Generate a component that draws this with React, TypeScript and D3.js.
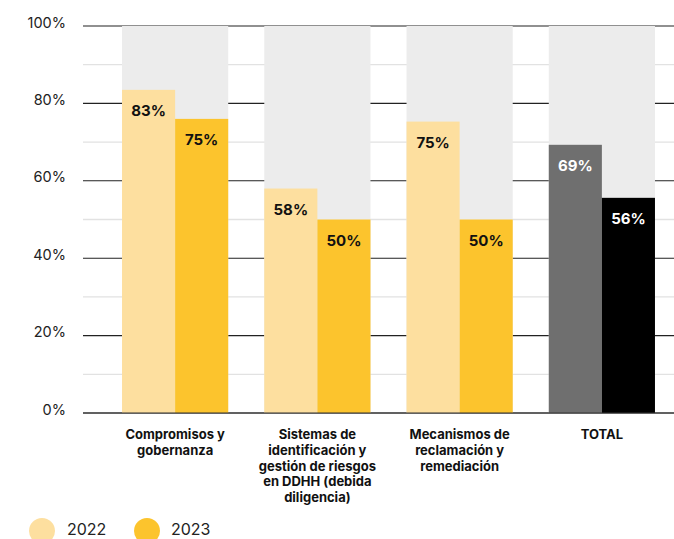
import * as d3 from 'd3';

// Datos
const categories = [
  ['Compromisos y', 'gobernanza'],
  ['Sistemas de', 'identificación y', 'gestión de riesgos', 'en DDHH (debida', 'diligencia)'],
  ['Mecanismos de', 'reclamación y', 'remediación'],
  ['TOTAL'],
];
const years = ['2022', '2023'];
const values2022 = [83.5, 58, 75.3, 69.3];
const values2023 = [76, 50, 50, 55.6];
const labels2022 = ['83%', '58%', '75%', '69%'];
const labels2023 = ['75%', '50%', '50%', '56%'];
const majorTicks = [0, 20, 40, 60, 80, 100];
const minorTicks = [10, 30, 50, 70, 90];

const W = 674;
const H = 539;
const FONT = 'Inter, "Noto Sans", sans-serif';

const COL_22 = '#fddf9f';
const COL_23 = '#fcc42d';
const COL_TOT_22 = '#6f6f6f';
const COL_TOT_23 = '#000000';
const COL_BG = '#ececec';

export default function App() {
  const y = d3.scaleLinear().domain([0, 100]).range([413, 26]);
  const x = d3
    .scaleBand<number>()
    .domain(d3.range(categories.length))
    .range([104, 673])
    .paddingInner(36 / 142)
    .paddingOuter(18 / 142);
  const sub = d3.scaleBand<string>().domain(years).range([0, x.bandwidth()]);

  const isTotal = (i: number) => i === categories.length - 1;

  return (
    <svg
      width={W}
      height={H}
      style={{ position: 'absolute', left: 0, top: 0, fontFamily: FONT }}
    >
      <rect width={W} height={H} fill="#fff" />

      {/* grid */}
      {minorTicks.map((t) => (
        <line key={'m' + t} x1={83} x2={W} y1={y(t)} y2={y(t)} stroke="#e2e2e2" strokeWidth={1.3} />
      ))}
      {majorTicks.map((t) => (
        <line key={'M' + t} x1={83} x2={W} y1={y(t)} y2={y(t)} stroke="#222" strokeWidth={1.1} />
      ))}
      {majorTicks.map((t) => (
        <text key={'t' + t} x={66} y={y(t) + 1.5} textAnchor="end" fontSize={14.5} fill="#222">
          {t}%
        </text>
      ))}

      {/* background bars */}
      {categories.map((_, i) => (
        <rect
          key={'bg' + i}
          x={x(i)}
          y={y(100)}
          width={x.bandwidth()}
          height={y(0) - y(100)}
          fill={COL_BG}
        />
      ))}

      {/* bars */}
      {categories.map((_, i) => {
        const x0 = x(i) ?? 0;
        const bw = sub.bandwidth();
        const c22 = isTotal(i) ? COL_TOT_22 : COL_22;
        const c23 = isTotal(i) ? COL_TOT_23 : COL_23;
        const txt = isTotal(i) ? '#fff' : '#111';
        return (
          <g key={'b' + i}>
            <rect x={x0 + (sub('2022') ?? 0)} y={y(values2022[i])} width={bw} height={y(0) - y(values2022[i])} fill={c22} />
            <rect x={x0 + (sub('2023') ?? 0)} y={y(values2023[i])} width={bw} height={y(0) - y(values2023[i])} fill={c23} />
            <text
              x={x0 + (sub('2022') ?? 0) + bw / 2}
              y={y(values2022[i]) + 26.5}
              textAnchor="middle"
              fontSize={15}
              fontWeight={700}
              fill={txt}
            >
              {labels2022[i]}
            </text>
            <text
              x={x0 + (sub('2023') ?? 0) + bw / 2}
              y={y(values2023[i]) + 26.5}
              textAnchor="middle"
              fontSize={15}
              fontWeight={700}
              fill={txt}
            >
              {labels2023[i]}
            </text>
          </g>
        );
      })}

      {/* re-draw baseline over bars */}
      <line x1={83} x2={W} y1={y(0)} y2={y(0)} stroke="#333" strokeWidth={1.1} />

      {/* category labels */}
      {categories.map((lines, i) => (
        <text
          key={'c' + i}
          x={(x(i) ?? 0) + x.bandwidth() / 2}
          y={439}
          textAnchor="middle"
          fontSize={13}
          fontWeight={700}
          fill="#111"
        >
          {lines.map((l, j) => (
            <tspan key={j} x={(x(i) ?? 0) + x.bandwidth() / 2} dy={j === 0 ? 0 : 15.8}>
              {l}
            </tspan>
          ))}
        </text>
      ))}

      {/* legend */}
      <circle cx={42} cy={531} r={13} fill={COL_22} />
      <text x={67} y={535} fontSize={16} fill="#222">
        {years[0]}
      </text>
      <circle cx={147} cy={531} r={13} fill={COL_23} />
      <text x={171} y={535} fontSize={16} fill="#222">
        {years[1]}
      </text>
    </svg>
  );
}
